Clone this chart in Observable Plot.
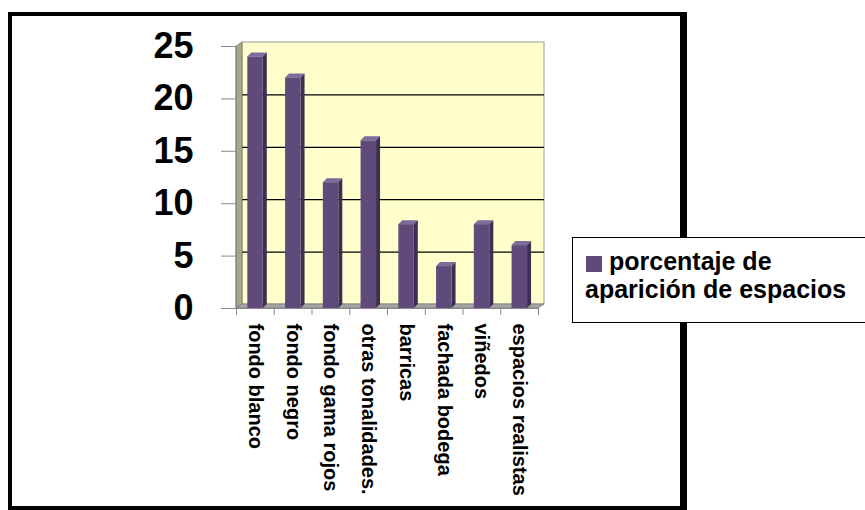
<!DOCTYPE html>
<html>
<head>
<meta charset="utf-8">
<script src="https://cdn.jsdelivr.net/npm/d3@7"></script>
<script src="https://cdn.jsdelivr.net/npm/@observablehq/plot@0.6"></script>
<style>
  html, body { margin: 0; padding: 0; background: #fff; width: 865px; height: 510px; overflow: hidden; }
  #chart { position: absolute; left: 0; top: 0; }
  #frame {
    position: absolute; left: 8px; top: 12px; width: 679px; height: 498px;
    box-sizing: border-box; border: 4px solid #000; border-right-width: 7px;
    pointer-events: none; z-index: 2;
  }
  #legend { position: absolute; left: 572px; top: 237px; z-index: 3; }
</style>
</head>
<body>
<div id="chart"></div>
<div id="frame"></div>
<div id="legend"></div>
<script>
// Categorías y porcentaje de aparición de cada tipo de espacio
const categorias = [
  "fondo blanco", "fondo negro", "fondo gama rojos", "otras tonalidades.",
  "barricas", "fachada bodega", "viñedos", "espacios realistas"
];
const porcentajes = [24, 22, 12, 16, 8, 4, 8, 6];
const ticksY = [0, 5, 10, 15, 20, 25];
const serie = "porcentaje de aparición de espacios";

const n = categorias.length;
const yMax = 25;
const fuente = "'Liberation Sans', Arial, sans-serif";

// Plot geometry (pixels)
const W = 865, H = 510;
const pxLeft = 236, pxRight = 538, pxTop = 46, pxBottom = 308;
const kx = n / (pxRight - pxLeft);      // data units per pixel, x
const ky = yMax / (pxBottom - pxTop);   // data units per pixel, y
const depthX = 6, depthY = 4;           // back-wall offset
const barDX = 4, barDY = 4;             // bar depth
const b0 = 0.3, b1 = 0.71;              // bar span within each category slot

const colFront = "#5F4A7B", colSide = "#3E2F52", colTop = "#7E6A9C";

const datos = categorias.map((c, i) => ({ i, c, v: porcentajes[i] }));

// 3-D faces of each bar built from the values
const caraLateral = datos.flatMap(d => [
  { i: d.i, x: d.i + b1, y1: 0, y2: d.v },
  { i: d.i, x: d.i + b1 + barDX * kx, y1: barDY * ky, y2: d.v + barDY * ky }
]);
const caraSuperior = datos.flatMap(d => [
  { i: d.i, x: d.i + b0, y1: d.v, y2: d.v },
  { i: d.i, x: d.i + b0 + barDX * kx, y1: d.v, y2: d.v + barDY * ky },
  { i: d.i, x: d.i + b1, y1: d.v, y2: d.v + barDY * ky },
  { i: d.i, x: d.i + b1 + barDX * kx, y1: d.v + barDY * ky, y2: d.v + barDY * ky }
]);

const pared = [{ x1: 0, x2: n, y1: 0, y2: yMax }];
const paredLateral = [
  { x: 0, y1: 0, y2: yMax },
  { x: depthX * kx, y1: depthY * ky, y2: yMax + depthY * ky }
];
const suelo = [
  { x: 0, y1: 0, y2: 0 },
  { x: depthX * kx, y1: 0, y2: depthY * ky },
  { x: n, y1: 0, y2: depthY * ky },
  { x: n + depthX * kx, y1: depthY * ky, y2: depthY * ky }
];

const chart = Plot.plot({
  width: W, height: H,
  marginLeft: pxLeft, marginRight: W - pxRight, marginTop: pxTop, marginBottom: H - pxBottom,
  style: { fontFamily: fuente, background: "transparent", overflow: "visible" },
  x: { type: "linear", domain: [0, n] },
  y: { type: "linear", domain: [0, yMax] },
  marks: [
    // back wall and gridlines
    Plot.rect(pared, { x1: "x1", x2: "x2", y1: "y1", y2: "y2", dx: depthX, dy: -depthY, fill: "#FFFFCC", stroke: "#9A9A9A" }),
    Plot.ruleY([5, 10, 15, 20], { x1: () => 0, x2: () => n, dx: depthX, dy: -depthY, stroke: "#000", strokeWidth: 1.2 }),
    // side wall and floor
    Plot.areaY(paredLateral, { x: "x", y1: "y1", y2: "y2", fill: "#A8A882", stroke: "#7C7C6A", strokeWidth: 0.8 }),
    Plot.areaY(suelo, { x: "x", y1: "y1", y2: "y2", fill: "#A5A5A5", stroke: "#7A7A7A", strokeWidth: 0.8 }),
    // bars
    Plot.areaY(caraSuperior, { x: "x", y1: "y1", y2: "y2", z: "i", fill: colTop }),
    Plot.areaY(caraLateral, { x: "x", y1: "y1", y2: "y2", z: "i", fill: colSide }),
    Plot.rectY(datos, { x1: d => d.i + b0, x2: d => d.i + b1, y1: () => 0, y2: "v", fill: colFront }),
    // axes
    Plot.ruleX([0], { y1: () => 0, y2: () => yMax, stroke: "#8A8A8A" }),
    Plot.ruleY([0], { x1: () => 0, x2: () => n, stroke: "#8A8A8A" }),
    Plot.axisY({
      ticks: ticksY, tickSize: 15, tickPadding: 28, label: null,
      stroke: "#8A8A8A", fill: "#000", fontSize: 36, fontWeight: "bold"
    }),
    Plot.axisX({
      ticks: d3.range(0, n + 1), tickSize: 7, tickFormat: () => "", label: null, stroke: "#8A8A8A"
    }),
    Plot.axisX({
      ticks: d3.range(0, n).map(i => i + 0.5), tickSize: 0, tickPadding: 15, tickRotate: 90,
      tickFormat: d => categorias[Math.floor(d)], label: null,
      fill: "#000", fontSize: 20, fontWeight: "bold"
    })
  ]
});
document.getElementById("chart").appendChild(chart);

// legend box
const leg = d3.select("#legend").append("svg")
  .attr("width", 310).attr("height", 86)
  .style("font-family", fuente);
leg.append("rect").attr("x", 0.5).attr("y", 0.5).attr("width", 320).attr("height", 85)
  .attr("fill", "#fff").attr("stroke", "#000");
leg.append("rect").attr("x", 14).attr("y", 19).attr("width", 16).attr("height", 16).attr("fill", colFront);
const palabras = serie.split(" ");
const texto = leg.append("text").attr("font-size", 25).attr("font-weight", "bold");
texto.append("tspan").attr("x", 37).attr("y", 33).text(palabras.slice(0, 2).join(" "));
texto.append("tspan").attr("x", 13).attr("y", 61).text(palabras.slice(2).join(" "));
</script>
</body>
</html>
